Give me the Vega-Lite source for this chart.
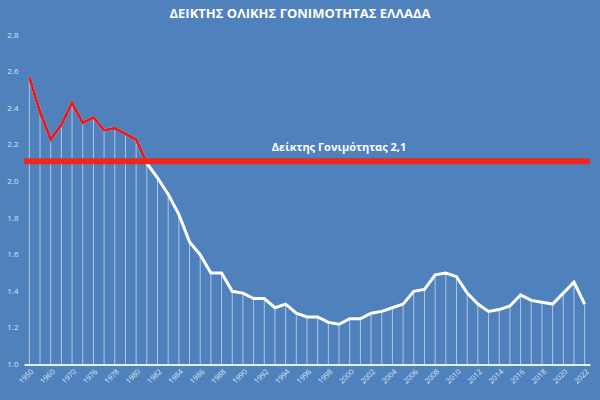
{
  "$schema": "https://vega.github.io/schema/vega-lite/v6.json",
  "width": 566,
  "height": 329.5,
  "autosize": "none",
  "padding": {"left": 24, "top": 35, "right": 10, "bottom": 35.5},
  "background": "#4f81bd",
  "config": {
    "view": {"stroke": null},
    "font": "Open Sans"
  },
  "title": {
    "text": "ΔΕΙΚΤΗΣ ΟΛΙΚΗΣ ΓΟΝΙΜΟΤΗΤΑΣ ΕΛΛΑΔΑ",
    "fontSize": 13,
    "fontWeight": "bold",
    "color": "white",
    "anchor": "middle",
    "dx": -7,
    "offset": 10
  },
  "data": {
    "values": [
      {"year": 1950, "tfr": 2.57},
      {"year": 1955, "tfr": 2.38},
      {"year": 1960, "tfr": 2.23},
      {"year": 1965, "tfr": 2.31},
      {"year": 1970, "tfr": 2.43},
      {"year": 1975, "tfr": 2.32},
      {"year": 1976, "tfr": 2.35},
      {"year": 1977, "tfr": 2.28},
      {"year": 1978, "tfr": 2.29},
      {"year": 1979, "tfr": 2.26},
      {"year": 1980, "tfr": 2.23},
      {"year": 1981, "tfr": 2.10},
      {"year": 1982, "tfr": 2.02},
      {"year": 1983, "tfr": 1.93},
      {"year": 1984, "tfr": 1.82},
      {"year": 1985, "tfr": 1.67},
      {"year": 1986, "tfr": 1.60},
      {"year": 1987, "tfr": 1.50},
      {"year": 1988, "tfr": 1.50},
      {"year": 1989, "tfr": 1.40},
      {"year": 1990, "tfr": 1.39},
      {"year": 1991, "tfr": 1.36},
      {"year": 1992, "tfr": 1.36},
      {"year": 1993, "tfr": 1.31},
      {"year": 1994, "tfr": 1.33},
      {"year": 1995, "tfr": 1.28},
      {"year": 1996, "tfr": 1.26},
      {"year": 1997, "tfr": 1.26},
      {"year": 1998, "tfr": 1.23},
      {"year": 1999, "tfr": 1.22},
      {"year": 2000, "tfr": 1.25},
      {"year": 2001, "tfr": 1.25},
      {"year": 2002, "tfr": 1.28},
      {"year": 2003, "tfr": 1.29},
      {"year": 2004, "tfr": 1.31},
      {"year": 2005, "tfr": 1.33},
      {"year": 2006, "tfr": 1.40},
      {"year": 2007, "tfr": 1.41},
      {"year": 2008, "tfr": 1.49},
      {"year": 2009, "tfr": 1.50},
      {"year": 2010, "tfr": 1.48},
      {"year": 2011, "tfr": 1.39},
      {"year": 2012, "tfr": 1.33},
      {"year": 2013, "tfr": 1.29},
      {"year": 2014, "tfr": 1.30},
      {"year": 2015, "tfr": 1.32},
      {"year": 2016, "tfr": 1.38},
      {"year": 2017, "tfr": 1.35},
      {"year": 2018, "tfr": 1.34},
      {"year": 2019, "tfr": 1.33},
      {"year": 2020, "tfr": 1.39},
      {"year": 2021, "tfr": 1.45},
      {"year": 2022, "tfr": 1.33}
    ]
  },
  "encoding": {
    "x": {
      "field": "year",
      "type": "ordinal",
      "scale": {"type": "point", "padding": 0.5},
      "axis": {
        "title": null,
        "values": [1950, 1960, 1970, 1976, 1978, 1980, 1982, 1984, 1986, 1988, 1990, 1992, 1994, 1996, 1998, 2000, 2002, 2004, 2006, 2008, 2010, 2012, 2014, 2016, 2018, 2020, 2022],
        "labelAngle": -45,
        "labelFontSize": 7.5,
        "labelColor": "#dbe5f1",
        "labelPadding": 3,
        "ticks": false,
        "grid": false,
        "domainColor": "#e8eef7",
        "domainWidth": 2
      }
    },
    "y": {
      "field": "tfr",
      "type": "quantitative",
      "scale": {"domain": [1, 2.8], "nice": false, "zero": false},
      "axis": {
        "title": null,
        "values": [1, 1.2, 1.4, 1.6, 1.8, 2, 2.2, 2.4, 2.6, 2.8],
        "format": ".1f",
        "labelFontSize": 8,
        "labelColor": "#dbe5f1",
        "labelPadding": 6,
        "ticks": false,
        "grid": false,
        "domain": false
      }
    }
  },
  "layer": [
    {
      "mark": {"type": "rule", "color": "white", "strokeWidth": 1, "opacity": 0.55},
      "encoding": {"y2": {"datum": 1}}
    },
    {
      "mark": {"type": "line", "color": "white", "strokeWidth": 3}
    },
    {
      "transform": [{"filter": "datum.year <= 1981"}],
      "mark": {"type": "line", "color": "#d9202a", "strokeWidth": 3}
    },
    {
      "data": {"values": [{"level": 2.11, "label": "Δείκτης Γονιμότητας 2,1"}]},
      "mark": {"type": "rule", "color": "#f0261c", "strokeWidth": 6},
      "encoding": {"x": {"value": 0}, "x2": {"value": 566}, "y": {"field": "level", "type": "quantitative"}}
    },
    {
      "data": {"values": [{"level": 2.11, "label": "Δείκτης Γονιμότητας 2,1"}]},
      "mark": {"type": "text", "color": "white", "fontSize": 11, "fontWeight": "bold", "dy": -13},
      "encoding": {
        "x": {"datum": 1999},
        "y": {"field": "level", "type": "quantitative"},
        "text": {"field": "label"}
      }
    }
  ]
}
